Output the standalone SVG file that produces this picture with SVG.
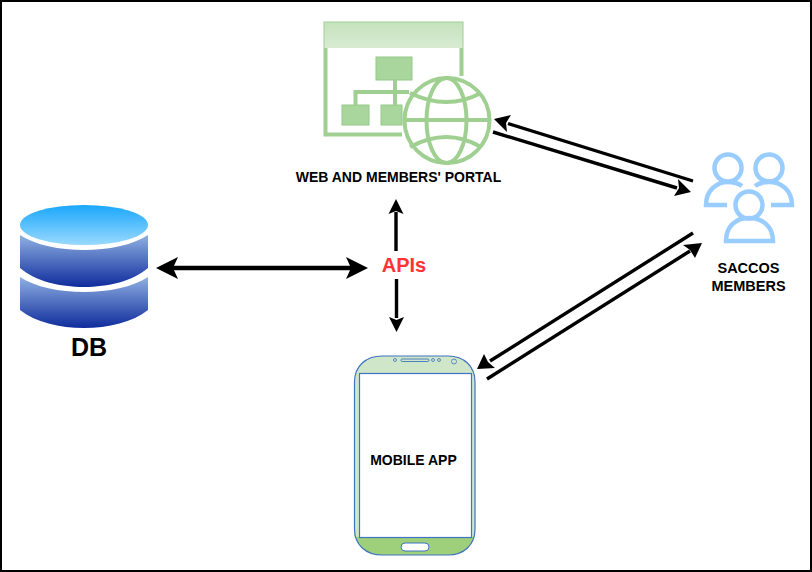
<svg xmlns="http://www.w3.org/2000/svg" width="812" height="572" viewBox="0 0 812 572">
<style>
text{font-family:"Liberation Sans",Arial,sans-serif;font-weight:bold;text-anchor:middle;fill:#000}
.lbl{font-size:14px}
.gf{fill:#a9d69c;stroke:#93c985;stroke-width:1}
.gl{fill:none;stroke:#9fd091;stroke-width:4}
.u{fill:none;stroke:#99ccff;stroke-width:4.5}
.c{fill:none;stroke:#000;stroke-width:3.4}
.ph{stroke:#3f74c0;stroke-width:1.2}
</style>
<defs>
<linearGradient id="top" x1="0" y1="0" x2="0" y2="1"><stop offset="0" stop-color="#1aa7fb"/><stop offset="1" stop-color="#99d9ff"/></linearGradient>
<linearGradient id="bar" x1="0" y1="0" x2="0" y2="1"><stop offset="0" stop-color="#8fb0e2"/><stop offset="1" stop-color="#0f2c9c"/></linearGradient>
<linearGradient id="win" x1="0" y1="0" x2="0" y2="1"><stop offset="0" stop-color="#c6e2bd"/><stop offset="1" stop-color="#d8ebd2"/></linearGradient>
</defs>
<rect x="1" y="1" width="810" height="570" fill="#fff" stroke="#000" stroke-width="2"/>
<g id="db">
<path d="M20 277C35 287 60 292 84 292S133 287 148 277V310C133 322 108 328 84 328S35 322 20 310Z" fill="url(#bar)"/>
<path d="M20 235C35 245 60 250 84 250S133 245 148 235V268C133 281 108 287 84 287S35 281 20 268Z" fill="url(#bar)"/>
<ellipse cx="84" cy="225" rx="64" ry="20" fill="url(#top)"/>
<text x="89" y="356" font-size="25">DB</text>
</g>
<g id="portal">
<path d="M323.500 21.500H463.500V76H459.500V48H327.500V132.500H402V136.500H323.500Z" fill="#9fd091"/>
<rect x="324.500" y="22.500" width="138" height="25.500" fill="url(#win)"/>
<rect x="376" y="57" width="36" height="23" class="gf"/>
<rect x="342" y="105" width="27" height="20" class="gf"/>
<rect x="381" y="105" width="21" height="20" class="gf"/>
<path d="M395 80V105M355.500 105V92H409" fill="none" stroke="#9fd091" stroke-width="4"/>
<circle cx="447" cy="120.500" r="42.500" fill="#fff" class="gl"/>
<ellipse cx="446.500" cy="120.500" rx="20" ry="42.500" class="gl"/>
<path d="M404 120H490M410 93Q447 111 481 93M410 147Q447 127 481 147" class="gl"/>
<text x="398.500" y="182" class="lbl">WEB AND MEMBERS' PORTAL</text>
</g>
<g id="members">
<circle cx="728" cy="168" r="13.500" class="u"/>
<circle cx="769" cy="168" r="13.500" class="u"/>
<circle cx="749" cy="205" r="13.500" class="u"/>
<path d="M727 205H706C706 190 717 182 728 182C734 182 738 183 742 186" class="u"/>
<path d="M771 205H792C792 190 781 182 769 182C763 182 759 183 755 186" class="u"/>
<path d="M726 241H773C773 226 762 218 749 218C736 218 726 226 726 241Z" class="u"/>
<text x="748.500" y="273" font-size="14.500">SACCOS</text>
<text x="748.500" y="291" font-size="14.500">MEMBERS</text>
</g>
<g id="mobile">
<path d="M354.500 382C354.500 366 366 356 382 356H448C464 356 475 366 475 382V529C475 545 464 555 448 555H382C366 555 354.500 545 354.500 529Z" fill="#cfe6c8"/>
<path d="M354.500 537H475V529C475 545 464 555 448 555H382C366 555 354.500 545 354.500 529Z" fill="#9ed07c"/>
<path d="M354.500 382C354.500 366 366 356 382 356H448C464 356 475 366 475 382V529C475 545 464 555 448 555H382C366 555 354.500 545 354.500 529Z" fill="none" class="ph"/>
<rect x="359.500" y="373.500" width="112" height="164" fill="#fff" class="ph"/>
<rect x="401" y="543" width="28" height="8" rx="4" fill="#fff" stroke="#3f74c0"/>
<rect x="401" y="359" width="28" height="2.500" rx="1.200" fill="#cfe6c8" stroke="#3f74c0" stroke-width="0.900"/>
<g fill="none" stroke="#3f74c0" stroke-width="0.800"><circle cx="395" cy="360" r="1.500"/><circle cx="433" cy="360" r="1.500"/><circle cx="439" cy="360" r="1.500"/><circle cx="454" cy="361.500" r="2.500"/></g>
<text x="413.500" y="465" class="lbl">MOBILE APP</text>
</g>
<text id="apis" x="404" y="272" font-size="20" style="fill:#ff3333">APIs</text>
<g id="connectors">
<path d="M173 268H351" class="c" style="stroke-width:4.500"/>
<path d="M156 268L178 257L173 268L178 279Z M368 268L346 257L351 268L346 279Z"/>
<path d="M396 251V212" class="c"/><path d="M396 199L403.500 214L396 211L388.500 214Z"/>
<path d="M396.500 279V318" class="c"/><path d="M396.500 332L389 317L396.500 320L404 317Z"/>
<path d="M693 181L508 123.500" class="c"/><path d="M494 119L511 115L506 123L507 132Z"/>
<path d="M493 132L677 188" class="c"/><path d="M691 192L674 196L679 188L678 179Z"/>
<path d="M693 233L490 361" class="c"/><path d="M477 369L484 354L488 362L495 368Z"/>
<path d="M487 379L690 251" class="c"/><path d="M702 243L695 258L690 250L683 245Z"/>
</g>
</svg>
